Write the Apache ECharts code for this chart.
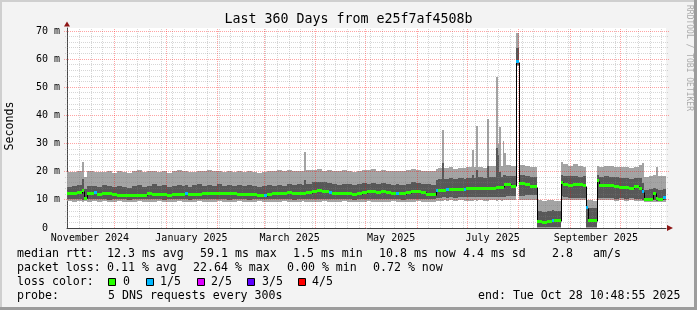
<!DOCTYPE html>
<html>
<head>
<meta charset="utf-8">
<script src="https://cdn.jsdelivr.net/npm/echarts@6.0.0/dist/echarts.min.js"></script>
<style>
html,body{margin:0;padding:0;background:#f3f3f3;}
#wrap{position:relative;width:697px;height:310px;overflow:hidden;}
#chart{position:absolute;left:0;top:0;width:697px;height:310px;}
.b{position:absolute;pointer-events:none;}
</style>
</head>
<body>
<div id="wrap">
<div id="chart"></div>
<div class="b" style="left:0;top:0;width:697px;height:2px;background:#cfcfcf"></div>
<div class="b" style="left:0;top:0;width:2px;height:310px;background:#cfcfcf"></div>
<div class="b" style="right:0;top:0;width:3px;height:310px;background:#9c9c9c"></div>
<div class="b" style="left:0;bottom:0;width:697px;height:3px;background:#9c9c9c"></div>
</div>
<script>
// ---------------- data (days since start of the 360-day window) ----------------
const END_DAY = 360;
const dayStart = [
  0,3,6,9,10,12,15,16.5,18,21,
  24,27,30,33,36,39,42,45,48,51,
  54,57,60,63,66,69,71,72.5,75,78,
  81,84,87,90,93,96,99,102,105,108,
  111,114,117,118.5,120,123,126,129,132,135,
  138,141,142.6,143.6,147,150,153,156,157.5,159,
  162,165,168,171,174,177,180,183,186,189,
  192,195,198,199.5,201,204,207,210,213,216,
  219,222,223,225.5,226.5,228,229.5,232,235,238.5,
  240,243.5,244.5,246,247,250,252.7,253.7,257.8,258.8,
  259.8,260.8,261.8,262.8,263.8,267,270,271.8,275,278.5,
  282.4,285.5,288.5,291.5,292.5,296.8,297.8,301,304,307,
  310,312.1,313.1,316,318.7,319.7,323,326,329,332,
  335,338,341,344,345.6,346.6,349.5,352.4,354.2,355.2,
  358.4
];
// lowest ping (ms)
const smokeMin = [
  9.5,9.4,9.5,9.3,9.6,9.4,9.5,9.5,9.4,9.5,
  9.3,9.4,9.5,9.4,9.3,9.4,9.5,9.4,9.3,9.4,
  9.5,9.4,9.3,9.4,9.5,9.4,9.4,9.3,9.4,9.5,
  9.4,9.3,9.4,9.5,9.4,9.3,9.4,9.5,9.4,9.3,
  9.4,9.5,9.4,9.4,9.4,9.3,9.4,9.5,9.4,9.3,
  9.4,9.5,9.4,9.4,9.3,9.4,9.5,9.4,9.4,9.3,
  9.4,9.5,9.4,9.3,9.4,9.4,9.5,9.4,9.3,9.4,
  9.4,9.5,9.4,9.4,9.3,9.4,9.4,9.5,9.4,9.3,
  9.4,9.7,9.7,9.7,9.8,9.7,9.8,9.7,9.8,9.7,
  9.7,9.7,9.8,9.7,9.8,9.7,9.7,9.8,9.7,9.8,
  9.8,9.7,9.8,9.8,10.0,10.0,57.5,10.0,10.0,10.1,
  0,0,0,0,0,10.0,10.0,10.0,10.0,9.9,
  10.0,0,0,0,10.0,9.9,9.8,9.8,9.7,9.8,
  9.7,9.8,9.7,9.7,9.5,9.4,9.4,9.4,9.4,9.4,
  9.4
];
// second ping (ms)
const smokeLow = [
  10.3,10.2,10.3,10.0,10.4,10.3,10.3,10.3,10.2,10.2,
  10.1,10.2,10.3,10.2,10.1,10.2,10.3,10.2,10.2,10.3,
  10.2,10.1,10.2,10.3,10.2,10.2,10.2,10.1,10.2,10.3,
  10.2,10.2,10.3,10.2,10.2,10.1,10.2,10.3,10.2,10.1,
  10.2,10.2,10.2,10.2,10.3,10.2,10.2,10.3,10.2,10.1,
  10.2,10.3,10.2,10.2,10.2,10.3,10.3,10.2,10.2,10.2,
  10.2,10.3,10.2,10.1,10.2,10.3,10.3,10.2,10.2,10.2,
  10.3,10.2,10.2,10.2,10.1,10.2,10.3,10.3,10.2,10.2,
  10.2,10.8,10.8,10.9,10.9,10.8,10.9,10.8,10.9,10.9,
  10.9,10.9,10.9,10.9,11.0,10.9,10.9,10.9,11.0,11.0,
  11.0,10.9,11.0,11.0,11.3,11.2,58.0,11.5,11.6,11.7,
  0.5,0.4,0.5,0.5,0.4,11.2,11.0,10.8,10.7,10.6,
  10.7,0.5,0.5,0.4,10.8,10.6,10.5,10.5,10.4,10.5,
  10.4,10.5,10.4,10.4,10.0,9.7,9.7,9.8,9.7,9.7,
  9.8
];
// median rtt (ms)
const median = [
  12.2,12.3,12.5,13.2,10.6,12.3,12.4,12.6,12.0,12.1,
  12.1,11.8,11.6,11.7,11.4,11.5,11.7,11.6,12.1,12.0,
  11.9,11.8,11.7,11.8,11.9,12.0,12.4,11.9,11.8,12.0,
  12.1,12.3,12.3,12.2,12.1,12.3,12.1,12.0,11.9,12.0,
  11.8,11.5,11.4,11.4,12.0,12.1,12.1,12.3,12.5,12.4,
  12.3,12.2,12.3,12.6,13.0,13.2,13.1,12.9,12.7,12.4,
  12.2,12.3,12.1,12.0,12.2,12.6,12.8,12.9,12.7,12.8,
  12.6,12.3,12.3,12.2,12.1,12.5,12.9,13.0,12.7,11.9,
  11.8,13.2,13.4,13.5,13.5,13.6,13.7,13.6,13.8,13.7,
  13.9,14.0,14.0,14.1,14.1,14.0,14.2,14.2,14.3,14.4,
  14.3,14.3,14.5,15.6,15.5,14.8,59.1,15.8,15.3,14.7,
  2.2,2.0,2.4,2.6,2.5,16.3,15.4,15.2,15.4,15.3,
  15.1,7.2,2.7,2.6,16.8,15.0,15.2,15.1,14.8,14.5,
  14.3,14.1,14.9,14.0,12.9,10.3,10.2,12.4,10.4,10.3,
  10.8
];
// fourth ping (ms)
const smokeHigh = [
  14.5,14.8,15.2,17.4,14.0,14.9,15.1,15.0,14.6,15.3,
  14.8,14.5,15.0,14.7,14.3,14.9,15.4,14.6,15.0,15.5,
  14.8,15.2,14.6,15.0,15.3,15.1,15.2,14.7,15.2,15.6,
  15.0,15.4,15.1,15.5,15.0,15.3,14.8,15.2,15.0,15.4,
  14.9,14.7,14.8,14.9,15.2,15.0,15.4,15.1,15.5,15.2,
  15.6,15.3,17.0,15.8,16.2,16.5,16.3,16.0,16.1,15.7,
  15.4,15.8,15.5,15.3,15.6,16.0,15.8,16.1,15.7,16.0,
  15.6,15.4,15.5,15.4,15.3,15.8,16.2,16.0,15.7,15.5,
  15.4,17.2,17.3,23.0,17.5,17.4,17.8,17.3,17.6,17.5,
  17.9,19.0,17.8,20.5,18.0,17.7,22.0,18.2,28.4,26.0,
  20.0,18.2,19.0,19.0,18.6,18.4,64.0,18.8,18.5,18.2,
  6.0,5.6,6.2,6.5,6.0,19.0,18.6,18.4,18.6,18.3,
  18.5,7.5,7.2,7.0,18.8,18.3,18.5,18.2,18.0,17.8,
  17.6,17.4,17.9,17.6,16.0,13.5,13.8,14.2,14.0,13.6,
  13.9
];
// highest ping (ms)
const smokeMax = [
  19.8,20.0,20.2,23.6,18.2,20.1,20.2,20.0,19.8,20.0,
  20.3,19.7,20.1,19.9,19.6,20.2,20.5,19.8,20.3,20.4,
  19.9,20.1,19.7,20.2,20.6,20.3,20.1,19.8,20.0,20.4,
  20.1,20.5,20.2,20.3,19.9,20.4,20.0,20.2,19.8,20.3,
  20.0,19.7,19.9,20.0,20.2,20.1,20.5,20.3,20.6,20.2,
  20.4,20.3,27.1,20.5,20.6,20.8,20.4,20.5,20.6,20.3,
  20.1,20.6,20.2,20.0,20.4,20.7,20.5,20.8,20.3,20.6,
  20.4,20.2,20.3,20.2,20.1,20.6,20.8,20.5,20.4,20.2,
  20.1,21.0,21.2,34.8,21.3,21.2,21.5,21.0,21.4,21.3,
  21.6,27.8,21.5,36.4,21.8,21.4,38.7,22.0,53.8,30.0,
  36.0,22.0,31.0,26.6,22.4,22.0,69.2,22.4,22.2,21.8,
  9.8,9.5,10.0,10.1,9.7,23.5,22.8,22.2,22.6,22.0,
  21.8,9.8,10.0,9.6,22.2,21.8,22.2,21.9,21.6,21.8,
  21.5,21.3,21.7,22.5,23.2,18.2,18.6,19.0,21.5,18.4,
  18.6
];
// lost pings out of 5
const loss = [
  0,0,0,0,0,0,0,1,0,0,
  0,0,0,0,0,0,0,0,0,0,
  0,0,0,0,0,0,1,0,0,0,
  0,0,0,0,0,0,0,0,0,0,
  0,0,0,1,0,0,0,0,0,0,
  0,0,0,0,0,0,0,0,1,0,
  0,0,0,0,0,0,0,0,0,0,
  0,0,1,0,0,0,0,0,0,0,
  0,1,0,0,0,1,0,0,0,1,
  0,0,0,0,0,0,0,0,0,0,
  0,0,0,0,0,0,1,0,0,0,
  0,0,0,1,0,0,0,0,0,0,
  0,1,0,0,0,0,0,0,0,0,
  0,0,0,0,1,0,0,0,0,0,
  1
];
const lossColors = ['#26ff00','#00b8ff','#dd00ff','#5e00ff','#ff0000'];
const lossLabels = ['0','1/5','2/5','3/5','4/5'];

// axis ticks / grid
const monthStartDays = [28.549,59.549,90.549,118.549,149.549,179.549,210.549,240.549,271.549,302.549,332.549];
const firstSundayDay = 0.549;
const monthLabelText = ['November 2024','January 2025','March 2025','May 2025','July 2025','September 2025'];
const monthLabelDay = [13.8,74.8,133.8,194.8,255.8,317.8];
const yLabelValues = [0,10,20,30,40,50,60,70];
const Y_MAX = 71.07;

// legend text
const titleText = 'Last 360 Days from e25f7af4508b';
const rttItems = ['median rtt:','12.3 ms avg','59.1 ms max','1.5 ms min','10.8 ms now','4.4 ms sd','2.8','am/s'];
const lossItems = ['packet loss:','0.11 % avg','22.64 % max','0.00 % min','0.72 % now'];
const probeItems = ['probe:','5 DNS requests every 300s'];
const endText = 'end: Tue Oct 28 10:48:55 2025';

// ---------------- layout ----------------
const rttX = [17,107,200,293,379,463,552,593];
const lossX = [17,107,193,287,373];
const boxX = [108,146,197,247,298];
const boxLabelX = [123,160,211,262,312];
const MONO = '"DejaVu Sans Mono", monospace';
const LIGHT = '#a4a4a4', DARK = '#585858';
const MINOR_COLOR = 'rgba(128,128,128,0.32)', MAJOR_COLOR = 'rgba(255,0,0,0.36)';

const rows = dayStart.map((d, i) => [
  d, i + 1 < dayStart.length ? dayStart[i + 1] : END_DAY,
  smokeMin[i], smokeLow[i], median[i], smokeHigh[i], smokeMax[i], loss[i],
  i > 0 ? median[i - 1] : median[i]
]);

const weekDays = [];
for (let d = firstSundayDay; d < END_DAY; d += 7) {
  if (!monthStartDays.some(m => Math.abs(m - d) < 0.01)) weekDays.push(d);
}
const minorY = [], majorY = [];
for (let v = 2; v <= 70; v += 2) (v % 10 === 0 ? majorY : minorY).push(v);

function bandItem(lowDim, highDim, color) {
  return function (params, api) {
    const a = api.coord([api.value(0), api.value(highDim)]);
    const b = api.coord([api.value(1), api.value(lowDim)]);
    const x0 = Math.round(a[0]), x1 = Math.round(b[0]);
    const y0 = Math.round(a[1]), y1 = Math.round(b[1]);
    return { type: 'rect', shape: { x: x0, y: y0, width: x1 - x0, height: Math.max(0, y1 - y0) }, style: { fill: color } };
  };
}
function vLine(color) {
  return function (params, api) {
    const d = api.value(0);
    const p = api.coord([d, 0]), t = api.coord([d, Y_MAX]);
    const x = Math.floor(p[0]) + 0.5;
    return { type: 'line', shape: { x1: x, y1: Math.round(p[1]), x2: x, y2: Math.round(t[1]) }, style: { stroke: color, lineWidth: 1, lineDash: [1, 1] } };
  };
}
function hLine(color, ext) {
  return function (params, api) {
    const v = api.value(1);
    const a = api.coord([0, v]), b = api.coord([END_DAY, v]);
    const y = Math.floor(a[1]) + 0.5;
    return { type: 'line', shape: { x1: Math.round(a[0]) - ext, y1: y, x2: Math.round(b[0]) + ext, y2: y }, style: { stroke: color, lineWidth: 1, lineDash: [1, 1] } };
  };
}

const smokeEncode = { x: [0, 1], y: [2, 3, 4, 5, 6] };
const common = { type: 'custom', coordinateSystem: 'cartesian2d', silent: true, animation: false, clip: false };

const chart = echarts.init(document.getElementById('chart'), null, { renderer: 'canvas', width: 697, height: 310, devicePixelRatio: 1 });

const graphics = [];
graphics.push({ type: 'text', x: 348.5, y: 19.5, silent: true, style: { text: titleText, font: '13.3px ' + MONO, fill: '#000', textAlign: 'center', textVerticalAlign: 'middle' } });
graphics.push({ type: 'text', x: 10, y: 126, rotation: Math.PI / 2, silent: true, style: { text: 'Seconds', font: '11.6px ' + MONO, fill: '#000', textAlign: 'center', textVerticalAlign: 'middle' } });
graphics.push({ type: 'text', x: 689, y: 58, rotation: -Math.PI / 2, silent: true, style: { text: 'RRDTOOL / TOBI OETIKER', font: '8px ' + MONO, fill: '#aaaaaa', textAlign: 'center', textVerticalAlign: 'middle' } });
function legendText(t, x, y, align) {
  graphics.push({ type: 'text', x: x, y: y, silent: true, style: { text: t, font: '11.6px ' + MONO, fill: '#000', textAlign: align || 'left', textVerticalAlign: 'middle' } });
}
rttItems.forEach((t, i) => legendText(t, rttX[i], 254));
lossItems.forEach((t, i) => legendText(t, lossX[i], 268));
legendText('loss color:', 17, 282);
lossLabels.forEach((t, i) => {
  graphics.push({ type: 'rect', silent: true, shape: { x: boxX[i] + 0.5, y: 278.5, width: 7, height: 7 }, style: { fill: lossColors[i], stroke: '#000', lineWidth: 1 } });
  legendText(t, boxLabelX[i], 282);
});
probeItems.forEach((t, i) => legendText(t, [17, 108][i], 296));
legendText(endText, 478, 296);

const option = {
  animation: false,
  backgroundColor: '#f3f3f3',
  grid: { left: 67, top: 28, width: 599, height: 200, show: true, backgroundColor: '#ffffff', borderWidth: 0, containLabel: false, outerBoundsMode: 'none' },
  xAxis: [
    {
      type: 'value', min: 0, max: END_DAY, position: 'bottom',
      axisLine: { show: true, lineStyle: { color: '#404040', width: 1 } },
      axisTick: { show: false },
      splitLine: { show: false },
      axisLabel: {
        show: true, customValues: monthLabelDay, margin: 5, color: '#000', fontSize: 10, fontFamily: MONO,
        formatter: function (v) {
          let best = -1, bd = 1e9;
          monthLabelDay.forEach((d, i) => { if (Math.abs(d - v) < bd) { bd = Math.abs(d - v); best = i; } });
          return bd < 0.5 ? monthLabelText[best] : '';
        }
      }
    },
    {
      type: 'value', min: 0, max: END_DAY, position: 'bottom',
      axisLine: { show: true, symbol: ['none', 'triangle'], symbolSize: [6, 6], symbolOffset: [0, 4], lineStyle: { color: '#8e1515', width: 0 } },
      axisTick: { show: false }, axisLabel: { show: false }, splitLine: { show: false }
    }
  ],
  yAxis: [
    {
      type: 'value', min: 0, max: Y_MAX, interval: 10, position: 'left',
      axisLine: { show: true, lineStyle: { color: '#404040', width: 1 } },
      axisTick: { show: false },
      splitLine: { show: false },
      axisLabel: {
        show: true, customValues: yLabelValues, margin: 7, color: '#000', fontSize: 10, fontFamily: MONO, showMaxLabel: true,
        formatter: function (v) { if (v > 70.5) return ''; return v === 0 ? '0  ' : (Math.round(v) + ' m'); }
      }
    },
    {
      type: 'value', min: 0, max: Y_MAX, position: 'left',
      axisLine: { show: true, symbol: ['none', 'triangle'], symbolSize: [6, 5], symbolOffset: [0, 4], lineStyle: { color: '#8e1515', width: 0 } },
      axisTick: { show: false }, axisLabel: { show: false }, splitLine: { show: false }
    }
  ],
  series: [
    Object.assign({}, common, { name: 'smoke outer', data: rows, encode: smokeEncode, renderItem: bandItem(2, 6, LIGHT), z: 2 }),
    Object.assign({}, common, { name: 'smoke inner', data: rows, encode: smokeEncode, renderItem: bandItem(3, 5, DARK), z: 3 }),
    Object.assign({}, common, { name: 'week grid', data: weekDays.map(d => [d, 0]), z: 4, renderItem: vLine(MINOR_COLOR) }),
    Object.assign({}, common, { name: 'minor y grid', data: minorY.map(v => [0, v]), z: 4, renderItem: hLine(MINOR_COLOR, 2) }),
    Object.assign({}, common, { name: 'month grid', data: monthStartDays.map(d => [d, 0]), z: 4, renderItem: vLine(MAJOR_COLOR) }),
    Object.assign({}, common, { name: 'major y grid', data: majorY.map(v => [0, v]), z: 4, renderItem: hLine(MAJOR_COLOR, 3) }),
    Object.assign({}, common, {
      name: 'median line', data: rows, encode: smokeEncode, z: 5,
      renderItem: function (params, api) {
        const xs = Math.round(api.coord([api.value(0), 0])[0]);
        const xe = Math.round(api.coord([api.value(1), 0])[0]);
        const y = Math.round(api.coord([0, api.value(4)])[1]) + 0.5;
        const yp = Math.round(api.coord([0, api.value(8)])[1]) + 0.5;
        return { type: 'group', children: [
          { type: 'line', shape: { x1: xs, y1: y, x2: xe, y2: y }, style: { stroke: '#000', lineWidth: 1 } },
          { type: 'line', shape: { x1: xs + 0.5, y1: yp, x2: xs + 0.5, y2: y }, style: { stroke: '#000', lineWidth: 1 } }
        ] };
      }
    }),
    Object.assign({}, common, {
      name: 'median loss colour', data: rows, encode: smokeEncode, z: 6,
      renderItem: function (params, api) {
        const xs = Math.round(api.coord([api.value(0), 0])[0]);
        const xe = Math.round(api.coord([api.value(1), 0])[0]);
        const y = api.coord([0, api.value(4)])[1];
        return { type: 'rect', shape: { x: xs, y: Math.round(y - 1.5), width: xe - xs, height: 3 }, style: { fill: lossColors[api.value(7)] } };
      }
    })
  ],
  graphic: graphics
};
chart.setOption(option);
</script>
</body>
</html>
